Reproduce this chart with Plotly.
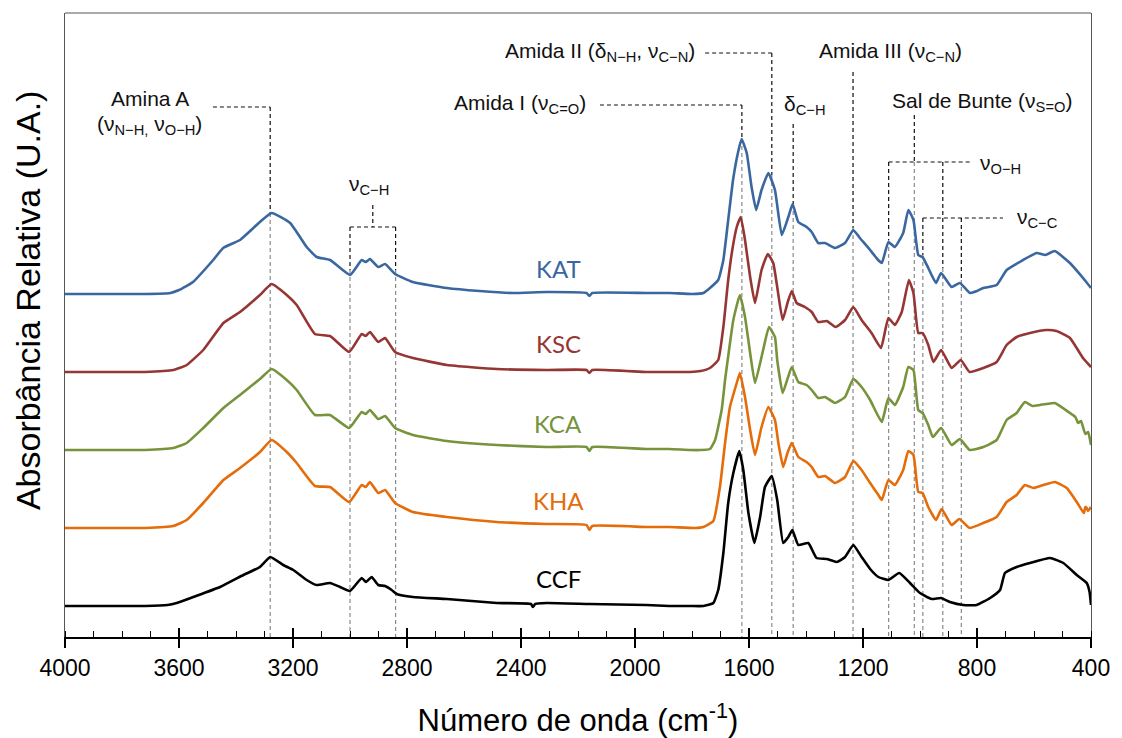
import plotly.graph_objects as go

# ---------------- data ----------------
kat_wn = [4000, 3900, 3800, 3720, 3630, 3600, 3551, 3480, 3445, 3386, 3316, 3275, 3210, 3152, 3117, 3070, 3000, 2959, 2945, 2930, 2901, 2877, 2842, 2780, 2660, 2545, 2430, 2310, 2170, 2160, 2150, 1960, 1880, 1800, 1760, 1737, 1708, 1690, 1673, 1656, 1639, 1626, 1608, 1591, 1575, 1556, 1532, 1509, 1485, 1462, 1447, 1427, 1398, 1380, 1357, 1333, 1298, 1263, 1234, 1211, 1175, 1150, 1134, 1111, 1088, 1059, 1041, 1023, 1006, 991, 971, 944, 926, 889, 860, 825, 800, 778, 731, 696, 638, 591, 560, 527, 474, 428, 400]
kat_abs = [3.43, 3.43, 3.43, 3.43, 3.44, 3.47, 3.55, 3.77, 3.89, 3.97, 4.15, 4.24, 4.14, 3.90, 3.80, 3.77, 3.62, 3.77, 3.75, 3.78, 3.70, 3.73, 3.63, 3.55, 3.49, 3.46, 3.44, 3.45, 3.44, 3.41, 3.44, 3.44, 3.44, 3.43, 3.44, 3.49, 3.57, 3.77, 4.17, 4.57, 4.84, 4.98, 4.84, 4.50, 4.27, 4.47, 4.64, 4.47, 4.02, 4.20, 4.33, 4.15, 4.10, 4.05, 3.94, 3.94, 3.89, 3.94, 4.07, 3.99, 3.87, 3.78, 3.74, 3.95, 3.90, 4.04, 4.27, 4.17, 3.82, 3.80, 3.69, 3.54, 3.64, 3.50, 3.54, 3.44, 3.46, 3.49, 3.52, 3.67, 3.77, 3.84, 3.82, 3.86, 3.74, 3.59, 3.49]

ksc_wn = [4000, 3900, 3800, 3720, 3620, 3573, 3515, 3444, 3386, 3316, 3275, 3222, 3187, 3123, 3070, 3003, 2959, 2945, 2930, 2901, 2877, 2842, 2779, 2660, 2485, 2310, 2170, 2160, 2150, 1960, 1880, 1807, 1770, 1737, 1708, 1690, 1673, 1657, 1643, 1629, 1614, 1596, 1579, 1556, 1534, 1515, 1501, 1482, 1464, 1450, 1433, 1404, 1380, 1357, 1327, 1296, 1263, 1234, 1205, 1170, 1137, 1111, 1088, 1064, 1039, 1023, 1006, 991, 971, 953, 926, 889, 857, 826, 778, 731, 696, 661, 614, 556, 521, 474, 428, 400]
ksc_abs = [2.65, 2.65, 2.65, 2.65, 2.67, 2.72, 2.87, 3.14, 3.25, 3.42, 3.53, 3.42, 3.32, 3.03, 3.01, 2.85, 3.03, 3.01, 3.05, 2.95, 2.99, 2.85, 2.79, 2.72, 2.68, 2.67, 2.67, 2.64, 2.67, 2.65, 2.65, 2.65, 2.66, 2.69, 2.77, 3.10, 3.57, 3.90, 4.10, 4.20, 3.97, 3.60, 3.34, 3.67, 3.83, 3.74, 3.50, 3.17, 3.35, 3.46, 3.34, 3.30, 3.25, 3.15, 3.16, 3.10, 3.17, 3.30, 3.17, 3.04, 2.89, 3.19, 3.12, 3.25, 3.57, 3.44, 3.04, 3.04, 2.92, 2.75, 2.87, 2.69, 2.77, 2.65, 2.69, 2.75, 2.92, 3.00, 3.04, 3.07, 3.06, 2.99, 2.79, 2.70]

kca_wn = [4000, 3900, 3800, 3720, 3620, 3573, 3515, 3444, 3386, 3316, 3275, 3222, 3187, 3123, 3070, 3003, 2959, 2945, 2930, 2901, 2877, 2842, 2779, 2660, 2485, 2310, 2170, 2160, 2150, 1960, 1880, 1807, 1770, 1737, 1719, 1696, 1684, 1678, 1655, 1632, 1614, 1596, 1579, 1552, 1530, 1509, 1501, 1482, 1464, 1450, 1427, 1398, 1380, 1357, 1333, 1298, 1263, 1234, 1205, 1175, 1134, 1111, 1088, 1059, 1041, 1023, 1006, 991, 971, 955, 926, 889, 860, 826, 778, 731, 696, 661, 632, 605, 579, 527, 474, 455, 445, 435, 420, 410, 400]
kca_abs = [1.87, 1.87, 1.87, 1.87, 1.89, 1.94, 2.09, 2.29, 2.42, 2.58, 2.68, 2.57, 2.47, 2.22, 2.22, 2.09, 2.25, 2.23, 2.27, 2.18, 2.21, 2.09, 2.02, 1.96, 1.92, 1.90, 1.90, 1.86, 1.90, 1.88, 1.88, 1.87, 1.87, 1.88, 1.97, 2.27, 2.57, 2.70, 3.17, 3.42, 3.20, 2.84, 2.54, 2.85, 3.10, 3.00, 2.77, 2.44, 2.59, 2.70, 2.55, 2.52, 2.47, 2.39, 2.40, 2.34, 2.40, 2.58, 2.50, 2.37, 2.15, 2.39, 2.32, 2.50, 2.70, 2.67, 2.27, 2.24, 2.12, 2.00, 2.09, 1.92, 1.98, 1.87, 1.90, 1.97, 2.17, 2.24, 2.35, 2.31, 2.32, 2.34, 2.24, 2.20, 2.14, 2.16, 2.03, 2.05, 1.92]

kha_wn = [4000, 3900, 3800, 3720, 3620, 3573, 3515, 3444, 3386, 3316, 3275, 3222, 3187, 3123, 3070, 3003, 2959, 2945, 2930, 2901, 2877, 2842, 2779, 2660, 2485, 2310, 2170, 2160, 2150, 1960, 1880, 1790, 1760, 1725, 1702, 1684, 1667, 1643, 1632, 1614, 1596, 1579, 1556, 1532, 1509, 1497, 1480, 1464, 1450, 1427, 1398, 1380, 1357, 1333, 1298, 1263, 1234, 1205, 1175, 1146, 1134, 1111, 1088, 1059, 1041, 1023, 1006, 991, 971, 944, 924, 889, 862, 826, 778, 731, 696, 661, 632, 602, 567, 527, 485, 450, 425, 420, 415, 410, 400]
kha_abs = [1.09, 1.09, 1.09, 1.09, 1.11, 1.17, 1.34, 1.57, 1.69, 1.85, 1.97, 1.85, 1.74, 1.51, 1.50, 1.35, 1.52, 1.50, 1.55, 1.44, 1.47, 1.34, 1.25, 1.20, 1.15, 1.13, 1.12, 1.07, 1.11, 1.10, 1.10, 1.09, 1.10, 1.16, 1.50, 1.94, 2.30, 2.54, 2.64, 2.40, 2.07, 1.82, 2.10, 2.30, 2.17, 1.94, 1.70, 1.85, 1.94, 1.80, 1.75, 1.70, 1.60, 1.61, 1.54, 1.60, 1.76, 1.67, 1.54, 1.42, 1.37, 1.57, 1.52, 1.67, 1.86, 1.82, 1.45, 1.44, 1.30, 1.17, 1.28, 1.12, 1.18, 1.09, 1.14, 1.20, 1.35, 1.42, 1.52, 1.49, 1.52, 1.55, 1.49, 1.35, 1.24, 1.30, 1.29, 1.26, 1.30]

ccf_wn = [4000, 3900, 3800, 3720, 3640, 3608, 3550, 3456, 3374, 3316, 3280, 3234, 3199, 3152, 3117, 3070, 3035, 3000, 2959, 2944, 2924, 2901, 2877, 2854, 2836, 2779, 2660, 2485, 2365, 2358, 2350, 2310, 2160, 1960, 1880, 1807, 1760, 1725, 1708, 1690, 1673, 1655, 1634, 1620, 1602, 1581, 1561, 1544, 1520, 1501, 1480, 1462, 1448, 1427, 1392, 1363, 1327, 1292, 1263, 1234, 1205, 1175, 1146, 1111, 1073, 1035, 1000, 959, 926, 895, 848, 801, 754, 719, 702, 661, 614, 544, 497, 450, 415, 405, 400]
ccf_abs = [0.31, 0.31, 0.31, 0.31, 0.32, 0.34, 0.40, 0.50, 0.62, 0.70, 0.80, 0.72, 0.67, 0.57, 0.52, 0.54, 0.50, 0.46, 0.59, 0.55, 0.60, 0.52, 0.51, 0.47, 0.43, 0.40, 0.38, 0.34, 0.33, 0.30, 0.33, 0.34, 0.33, 0.32, 0.31, 0.31, 0.31, 0.34, 0.47, 0.84, 1.34, 1.64, 1.86, 1.67, 1.24, 0.94, 1.20, 1.50, 1.61, 1.37, 0.94, 1.00, 1.07, 0.92, 0.94, 0.79, 0.78, 0.75, 0.80, 0.92, 0.80, 0.68, 0.60, 0.57, 0.64, 0.54, 0.44, 0.38, 0.39, 0.35, 0.32, 0.32, 0.39, 0.47, 0.64, 0.70, 0.74, 0.79, 0.74, 0.62, 0.54, 0.45, 0.32]

series_names = ["KAT", "KSC", "KCA", "KHA", "CCF"]
series_wn = [kat_wn, ksc_wn, kca_wn, kha_wn, ccf_wn]
series_abs = [kat_abs, ksc_abs, kca_abs, kha_abs, ccf_abs]
series_colors = ["#3A67A0", "#963634", "#77933C", "#E46C0A", "#000000"]

x_ticks = [4000, 3600, 3200, 2800, 2400, 2000, 1600, 1200, 800, 400]

# ---------------- figure ----------------
fig = go.Figure()
for name, wn, ab, col in zip(series_names, series_wn, series_abs, series_colors):
    fig.add_trace(go.Scatter(x=wn, y=ab, mode="lines", name=name,
                             line=dict(color=col, width=2.6, shape="spline", smoothing=0.4),
                             showlegend=False, hoverinfo="skip"))

# invisible trace carrying the secondary axis (inner half of the major ticks)
fig.add_trace(go.Scatter(x=[4000, 400], y=[None, None], xaxis="x2", mode="lines",
                         showlegend=False, hoverinfo="skip"))

# curve labels
label_pos = {"KAT": 3.69, "KSC": 2.94, "KCA": 2.14, "KHA": 1.37, "CCF": 0.59}
for name, col in zip(series_names, series_colors):
    fig.add_annotation(x=2270, y=label_pos[name], text=name, showarrow=False,
                       font=dict(family="Lato, Open Sans, sans-serif", size=24, color=col),
                       xanchor="center", yanchor="middle")

# guide lines
BLACK = "#111111"
GRAY = "#8a8a8a"
DASH = "4px,3px"

def seg(x0, y0, x1, y1, color):
    fig.add_shape(type="line", xref="x", yref="y", x0=x0, y0=y0, x1=x1, y1=y1,
                  line=dict(color=color, width=1.2, dash=DASH), layer="below")

def vguide(wn, ytop, yswitch):
    seg(wn, ytop, wn, yswitch, BLACK)
    seg(wn, yswitch, wn, 0, GRAY)

for wn, ytop, ysw in [(3280, 5.30, 4.24), (3000, 4.10, 3.67), (2840, 4.10, 3.67),
                      (1625, 5.32, 4.98), (1520, 5.84, 4.62), (1445, 5.13, 4.33),
                      (1235, 5.65, 4.09), (1020, 5.22, 4.75), (1110, 4.75, 3.97),
                      (920, 4.75, 3.69), (990, 4.19, 3.82), (855, 4.19, 3.57)]:
    vguide(wn, ytop, ysw)

for x0, x1, y in [(3481, 3280, 5.30), (3000, 2840, 4.10), (2123, 1625, 5.32),
                  (1754, 1520, 5.84), (1110, 825, 4.75), (990, 709, 4.19)]:
    seg(x0, y, x1, y, BLACK)
seg(2920, 4.32, 2920, 4.10, BLACK)

AFONT = dict(family="Liberation Sans, Arial, sans-serif", size=21, color="#111111")
for txt, x, y, xa in [
    ("Amina A", 3702, 5.39, "center"),
    ("(ν<sub>N−H,</sub> ν<sub>O−H</sub>)", 3702, 5.12, "center"),
    ("ν<sub>C−H</sub>", 2933, 4.52, "center"),
    ("Amida II (δ<sub>N−H</sub>, ν<sub>C−N</sub>)", 1782, 5.85, "right"),
    ("Amida I (ν<sub>C=O</sub>)", 2165, 5.33, "right"),
    ("δ<sub>C−H</sub>", 1404, 5.32, "center"),
    ("Amida III (ν<sub>C−N</sub>)", 1102, 5.85, "center"),
    ("Sal de Bunte (ν<sub>S=O</sub>)", 782, 5.35, "center"),
    ("ν<sub>O−H</sub>", 797, 4.73, "left"),
    ("ν<sub>C−C</sub>", 667, 4.19, "left"),
]:
    fig.add_annotation(x=x, y=y, text=txt, showarrow=False, xanchor=xa, yanchor="middle",
                       font=AFONT)

# y-axis title (placed as a rotated annotation to match the reference position)
fig.add_annotation(xref="paper", yref="paper", x=-0.036, y=0.54, textangle=-90,
                   text="Absorbância Relativa (U.A.)", showarrow=False,
                   xanchor="center", yanchor="middle",
                   font=dict(family="Liberation Sans, Arial, sans-serif", size=34, color="black"))

# top frame line
fig.add_shape(type="line", xref="paper", yref="paper", x0=0, x1=1, y0=1, y1=1,
              line=dict(color="#555555", width=1.2))

SANS = "Liberation Sans, Arial, sans-serif"

fig.update_layout(
    width=1122, height=738,
    margin=dict(l=65, r=31, t=13, b=101),
    plot_bgcolor="white", paper_bgcolor="white",
    xaxis=dict(range=[4000, 400], tickvals=x_ticks, ticks="outside", ticklen=9,
               tickwidth=1.5, tickcolor="black", showline=True, linewidth=2.2,
               linecolor="black", showgrid=False, zeroline=False, automargin=False,
               tickfont=dict(family=SANS, size=23, color="black"),
               minor=dict(dtick=100, tick0=0, ticks="inside", ticklen=6, tickwidth=1.2,
                          tickcolor="black", showgrid=False),
               title=dict(text="Número de onda (cm<sup>-1</sup>)",
                          font=dict(family=SANS, size=31, color="black"), standoff=30)),
    xaxis2=dict(range=[4000, 400], overlaying="x", side="bottom", tickvals=x_ticks,
                ticks="inside", ticklen=9, tickwidth=1.5, tickcolor="black", automargin=False,
                showticklabels=False, showline=False, showgrid=False, zeroline=False),
    yaxis=dict(range=[0, 6.24], showticklabels=False, ticks="", showgrid=False,
               automargin=False,
               zeroline=False, showline=True, mirror=True, linewidth=1.2, linecolor="#555555"),
)

fig.write_html("out.html")
